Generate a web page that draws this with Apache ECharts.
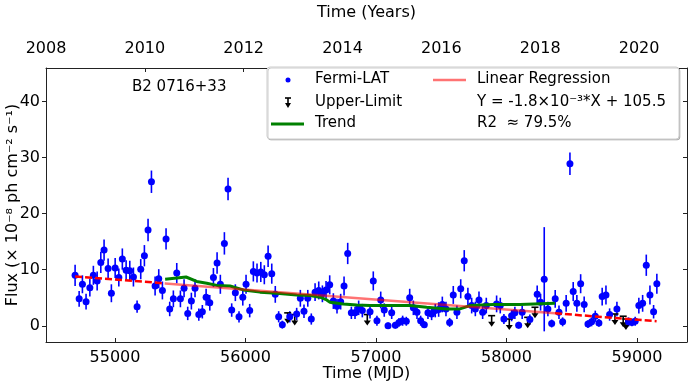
<!DOCTYPE html>
<html>
<head>
<meta charset="utf-8">
<script src="https://cdn.jsdelivr.net/npm/echarts@6/dist/echarts.min.js"></script>
<style>
  html, body { margin: 0; padding: 0; background: #fff; }
  #main { width: 691px; height: 383px; }
</style>
</head>
<body>
<div id="main"></div>
<script>
// Fermi-LAT light curve of B2 0716+33 (MJD, flux in 1e-8 ph cm-2 s-1, 1 sigma error)
var mjd = [54694, 54725, 54750, 54778, 54807, 54834, 54863, 54891, 54916, 54947,
    54972, 55001, 55029, 55056, 55085, 55113, 55141, 55169, 55197, 55225,
    55253, 55279, 55307, 55335, 55363, 55391, 55419, 55447, 55473, 55501,
    55529, 55557, 55585, 55613, 55642, 55669, 55698, 55726, 55754, 55782,
    55807, 55838, 55866, 55894, 55922, 55950, 55979, 56004, 56032, 56060,
    56088, 56117, 56144, 56173, 56201, 56228, 56254, 56282, 56339, 56392,
    56420, 56448, 56477, 56504, 56533, 56561, 56589, 56617, 56645, 56673,
    56701, 56729, 56755, 56783, 56811, 56839, 56867, 56895, 56954, 56979,
    57007, 57036, 57063, 57092, 57120, 57148, 57176, 57204, 57232, 57258,
    57286, 57314, 57342, 57370, 57398, 57426, 57454, 57480, 57508, 57536,
    57564, 57592, 57620, 57649, 57676, 57704, 57733, 57761, 57789, 57817,
    57845, 57924, 57952, 57980, 58039, 58064, 58093, 58120, 58179, 58235,
    58261, 58289, 58317, 58346, 58373, 58402, 58430, 58457, 58486, 58511,
    58539, 58568, 58595, 58624, 58652, 58680, 58708, 58733, 58762, 58790,
    58846, 58935, 58961, 58986, 59014, 59043, 59071, 59099, 59127, 59152];
var flux = [9.0, 4.8, 7.4, 4.3, 6.8, 9.0, 8.0, 11.3, 13.5, 10.2,
    5.8, 10.3, 8.6, 11.9, 9.9, 9.8, 8.7, 3.4, 10.1, 12.5,
    17.1, 25.7, 7.1, 8.4, 6.3, 15.5, 3.0, 4.8, 9.4, 4.8,
    6.7, 2.2, 4.4, 6.7, 2.0, 2.5, 5.1, 4.1, 8.6, 11.2,
    7.4, 14.7, 24.4, 2.8, 5.9, 1.6, 5.1, 7.4, 2.7, 9.7,
    9.4, 9.6, 9.1, 12.4, 9.3, 5.6, 1.6, 0.2, 1.6, 2.1,
    4.9, 2.6, 4.9, 1.2, 6.0, 6.3, 5.7, 6.4, 7.3, 4.4,
    3.5, 4.3, 7.1, 12.9, 2.3, 2.3, 3.2, 2.7, 2.5, 8.0,
    0.9, 4.6, 2.8, 0.0, 2.3, 0.1, 0.6, 0.9, 0.8, 5.0,
    3.2, 2.4, 0.9, 0.2, 2.3, 2.1, 2.7, 2.9, 3.8, 3.0,
    0.6, 5.5, 2.4, 6.6, 11.6, 5.2, 3.6, 3.0, 4.6, 2.4,
    3.6, 3.9, 3.6, 1.2, 1.8, 2.3, 0.1, 2.4, 1.1, 5.6,
    4.2, 8.3, 3.0, 0.4, 4.8, 2.4, 0.7, 4.0, 28.9, 6.1,
    4.0, 7.5, 3.8, 0.3, 0.7, 1.7, 0.5, 5.2, 5.5, 2.0,
    3.0, 0.7, 0.6, 0.8, 3.6, 4.0, 10.8, 5.5, 2.5, 7.5];
var fluxErr = [1.9, 1.4, 1.6, 1.4, 1.6, 1.7, 1.7, 1.9, 1.9, 1.8,
    1.6, 1.8, 1.6, 1.9, 1.8, 1.8, 1.7, 1.1, 1.8, 1.9,
    2.0, 2.0, 1.7, 1.7, 1.6, 1.9, 1.3, 1.5, 1.8, 1.5,
    1.6, 1.2, 1.5, 1.6, 1.1, 1.2, 1.5, 1.4, 1.7, 1.9,
    1.7, 2.0, 2.0, 1.2, 1.5, 1.0, 1.5, 1.7, 1.2, 1.8,
    1.7, 1.8, 1.7, 1.9, 1.8, 1.5, 1.0, 0.7, 1.0, 1.1,
    1.5, 1.2, 1.5, 1.0, 1.6, 1.6, 1.5, 1.6, 1.7, 1.4,
    1.3, 1.4, 1.7, 1.9, 1.1, 1.1, 1.3, 1.2, 1.2, 1.7,
    0.9, 1.5, 1.2, 0.6, 1.1, 0.6, 0.8, 0.9, 0.8, 1.6,
    1.3, 1.2, 0.9, 0.6, 1.1, 1.1, 1.2, 1.3, 1.4, 1.3,
    0.8, 1.6, 1.2, 1.7, 1.9, 1.6, 1.4, 1.3, 1.5, 1.2,
    1.4, 1.5, 1.4, 0.9, 1.0, 1.1, 0.6, 1.2, 0.9, 1.6,
    1.5, 9.3, 1.3, 0.7, 1.6, 1.2, 0.8, 1.5, 2.0, 1.7,
    1.5, 1.7, 1.4, 0.7, 0.8, 1.0, 0.7, 1.6, 1.7, 1.1,
    1.3, 0.8, 0.7, 0.8, 1.4, 1.5, 1.9, 1.7, 1.2, 1.8];

// upper limits
var ulMjd = [56323, 56377, 56933, 57886, 58021, 58162, 58218, 58831, 58894, 58915];
var ulFlux = [2.3, 2.0, 2.0, 1.8, 1.2, 1.5, 3.3, 2.1, 1.7, 1.2];

// trend curve
var trendMjd = [55384, 55544, 55626, 55703, 55780, 55881, 55983, 56111, 56239, 56392,
    56494, 56571, 56622, 56647, 56749, 56852, 56954, 57030, 57260, 57388,
    57541, 57643, 57720, 57898, 58103, 58371];
var trendFlux = [8.3, 8.7, 7.9, 7.6, 7.2, 7.1, 6.4, 6.0, 5.8, 5.5,
    5.4, 5.1, 4.6, 4.2, 3.9, 3.7, 3.6, 3.6, 3.6, 3.3,
    3.0, 3.0, 3.6, 3.8, 3.8, 4.0];

// linear regression: fitted part and extrapolated ends
var regMjd = [54694, 55384, 58371, 59150];
var regFlux = [8.8, 7.56, 2.22, 0.82];

var mjdTicks = [55000, 56000, 57000, 58000, 59000];
var fluxTicks = [0, 10, 20, 30, 40];

var pts = [], errs = [], uls = [], trend = [];
for (var i = 0; i < mjd.length; i++) {
    pts.push([mjd[i], flux[i]]);
    errs.push([mjd[i], flux[i] - fluxErr[i], flux[i] + fluxErr[i]]);
}
for (var i = 0; i < ulMjd.length; i++) uls.push([ulMjd[i], ulFlux[i]]);
for (var i = 0; i < trendMjd.length; i++) trend.push([trendMjd[i], trendFlux[i]]);
var regA = [[regMjd[0], regFlux[0]], [regMjd[1], regFlux[1]]];
var regB = [[regMjd[1], regFlux[1]], [regMjd[2], regFlux[2]]];
var regC = [[regMjd[2], regFlux[2]], [regMjd[3], regFlux[3]]];

var FONT = 'DejaVu Sans';
var frame = { show: true, onZero: false, lineStyle: { color: '#222', width: 1 } };
var plain = function (v) { return String(v); };

var myChart = echarts.init(document.getElementById('main'));
var option = {
    animation: false,
    backgroundColor: '#fff',
    textStyle: { fontFamily: FONT },
    grid: { left: 46, right: 4, top: 68, bottom: 41, containLabel: false, outerBoundsMode: 'none' },
    xAxis: [{
        type: 'value', position: 'bottom', min: 54471, max: 59383,
        name: 'Time (MJD)', nameLocation: 'middle', nameGap: 24, nameMoveOverlap: false,
        nameTextStyle: { fontSize: 16, color: '#000', fontFamily: FONT },
        axisLine: frame,
        axisTick: { show: true, inside: true, length: 4, customValues: mjdTicks, lineStyle: { color: '#222' } },
        axisLabel: { customValues: mjdTicks, formatter: plain, fontSize: 16, color: '#000', margin: 8, fontFamily: FONT },
        splitLine: { show: false }
    }, {
        type: 'value', position: 'top', min: 2008, max: 2020.97, interval: 2,
        name: 'Time (Years)', nameLocation: 'middle', nameGap: 47, nameMoveOverlap: false,
        nameTextStyle: { fontSize: 16, color: '#000', fontFamily: FONT },
        axisLine: frame,
        axisTick: { show: true, inside: true, length: 4, lineStyle: { color: '#222' } },
        axisLabel: { formatter: plain, fontSize: 16, color: '#000', margin: 11, fontFamily: FONT, showMaxLabel: false },
        splitLine: { show: false }
    }],
    yAxis: [{
        type: 'value', position: 'left', min: -2.9, max: 46,
        name: 'Flux (× 10⁻⁸ ph cm⁻² s⁻¹)', nameLocation: 'middle', nameGap: 25, nameMoveOverlap: false,
        nameTextStyle: { fontSize: 16, color: '#000', fontFamily: FONT },
        axisLine: frame,
        axisTick: { show: true, inside: false, length: 4, customValues: fluxTicks, lineStyle: { color: '#222' } },
        axisLabel: { customValues: fluxTicks, formatter: plain, fontSize: 16, color: '#000', margin: 6, fontFamily: FONT },
        splitLine: { show: false }
    }, {
        type: 'value', position: 'right', min: -2.9, max: 46,
        axisLine: frame,
        axisTick: { show: true, inside: true, length: 4, customValues: fluxTicks, lineStyle: { color: '#222' } },
        axisLabel: { show: false },
        splitLine: { show: false }
    }],
    series: [{
        name: 'err', type: 'custom', xAxisIndex: 0, yAxisIndex: 0, z: 2,
        data: errs,
        renderItem: function (params, api) {
            var a = api.coord([api.value(0), api.value(1)]);
            var b = api.coord([api.value(0), api.value(2)]);
            return { type: 'line', shape: { x1: a[0], y1: a[1], x2: b[0], y2: b[1] },
                     style: { stroke: '#0000ff', lineWidth: 1.6 } };
        }
    }, {
        name: 'Fermi-LAT', type: 'scatter', xAxisIndex: 0, yAxisIndex: 0, z: 3,
        data: pts, symbol: 'circle', symbolSize: 7,
        itemStyle: { color: '#0000ff', opacity: 1 }
    }, {
        name: 'Upper-Limit', type: 'custom', xAxisIndex: 0, yAxisIndex: 0, z: 3,
        data: uls,
        renderItem: function (params, api) {
            var p = api.coord([api.value(0), api.value(1)]);
            var st = { stroke: '#000', lineWidth: 1.6 };
            return { type: 'group', children: [
                { type: 'line', shape: { x1: p[0] - 3.5, y1: p[1], x2: p[0] + 3.5, y2: p[1] }, style: st },
                { type: 'line', shape: { x1: p[0], y1: p[1], x2: p[0], y2: p[1] + 8 }, style: st },
                { type: 'polygon', shape: { points: [[p[0] - 3.5, p[1] + 6], [p[0] + 3.5, p[1] + 6], [p[0], p[1] + 11]] },
                  style: { fill: '#000' } }
            ] };
        }
    }, {
        name: 'Trend', type: 'line', xAxisIndex: 0, yAxisIndex: 0, z: 4,
        data: trend, showSymbol: false, smooth: false,
        lineStyle: { color: '#008000', width: 3 }
    }, {
        name: 'reg-a', type: 'line', xAxisIndex: 0, yAxisIndex: 0, z: 5,
        data: regA, showSymbol: false,
        lineStyle: { color: '#ff0000', width: 2.5, type: [7, 3] }
    }, {
        name: 'Linear Regression', type: 'line', xAxisIndex: 0, yAxisIndex: 0, z: 5,
        data: regB, showSymbol: false,
        lineStyle: { color: '#ff0000', opacity: 0.55, width: 2.5 }
    }, {
        name: 'reg-c', type: 'line', xAxisIndex: 0, yAxisIndex: 0, z: 5,
        data: regC, showSymbol: false,
        lineStyle: { color: '#ff0000', width: 2.5, type: [7, 3] }
    }],
    graphic: [
        { type: 'text', left: 132, top: 80, z: 10,
          style: { text: 'B2 0716+33', font: '15px "DejaVu Sans"', fill: '#000' } },
        { type: 'rect', z: 10, shape: { x: 267, y: 67, width: 412, height: 72, r: 3 },
          style: { fill: '#ffffff', stroke: '#cccccc', lineWidth: 1,
                   shadowColor: 'rgba(0,0,0,0.2)', shadowOffsetX: 1, shadowOffsetY: 1 } },
        { type: 'circle', z: 11, shape: { cx: 288, cy: 80, r: 2.5 }, style: { fill: '#0000ff' } },
        { type: 'line', z: 11, shape: { x1: 285, y1: 98, x2: 291, y2: 98 }, style: { stroke: '#000', lineWidth: 1.6 } },
        { type: 'line', z: 11, shape: { x1: 288, y1: 98, x2: 288, y2: 105 }, style: { stroke: '#000', lineWidth: 1.6 } },
        { type: 'polygon', z: 11, shape: { points: [[285, 103], [291, 103], [288, 108]] }, style: { fill: '#000' } },
        { type: 'line', z: 11, shape: { x1: 271, y1: 124, x2: 304, y2: 124 }, style: { stroke: '#008000', lineWidth: 3 } },
        { type: 'line', z: 11, shape: { x1: 433, y1: 80, x2: 466, y2: 80 }, style: { stroke: 'rgba(255,0,0,0.55)', lineWidth: 2.5 } },
        { type: 'text', z: 11, left: 315, top: 72, style: { text: 'Fermi-LAT', font: '15px "DejaVu Sans"', fill: '#000' } },
        { type: 'text', z: 11, left: 315, top: 95, style: { text: 'Upper-Limit', font: '15px "DejaVu Sans"', fill: '#000' } },
        { type: 'text', z: 11, left: 315, top: 116, style: { text: 'Trend', font: '15px "DejaVu Sans"', fill: '#000' } },
        { type: 'text', z: 11, left: 477, top: 72, style: { text: 'Linear Regression', font: '15px "DejaVu Sans"', fill: '#000' } },
        { type: 'text', z: 11, left: 477, top: 95, style: { text: 'Y = -1.8×10⁻³*X + 105.5', font: '15px "DejaVu Sans"', fill: '#000' } },
        { type: 'text', z: 11, left: 477, top: 116, style: { text: 'R2  ≈ 79.5%', font: '15px "DejaVu Sans"', fill: '#000' } }
    ]
};
myChart.setOption(option);
</script>
</body>
</html>
